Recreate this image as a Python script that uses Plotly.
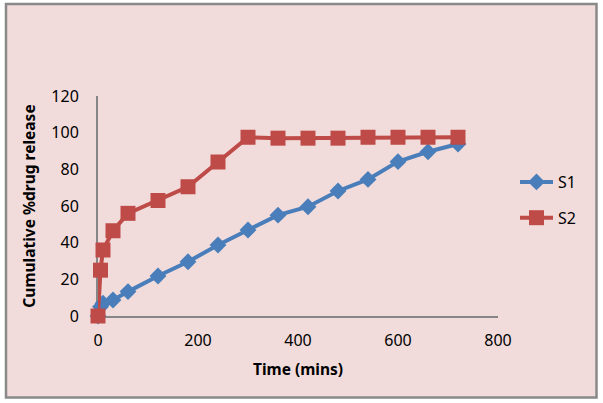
import plotly.graph_objects as go

time_s1 = [0, 5, 10, 30, 60, 120, 180, 240, 300, 360, 420, 480, 540, 600, 660, 720]
s1 = [0, 5, 7, 8.7, 13.3, 21.8, 29.6, 38.7, 46.9, 55, 59.6, 68.2, 74.5, 84.2, 89.6, 93.8]
time_s2 = [0, 5, 10, 30, 60, 120, 180, 240, 300, 360, 420, 480, 540, 600, 660, 720]
s2 = [0, 25, 36, 46.5, 56, 63, 70.5, 84, 97.5, 97, 97, 97, 97.5, 97.5, 97.5, 97.5]

x_ticks = [0, 200, 400, 600, 800]
y_ticks = [0, 20, 40, 60, 80, 100, 120]

FONT = "Noto Sans"
L, R, T, B = 98, 105, 96, 87
W, H = 603, 403
PW, PH = W - L - R, H - T - B

def px(x):
    return (x - L) / PW

def py(y):
    return (H - B - y) / PH

fig = go.Figure()
fig.add_trace(go.Scatter(
    x=time_s1, y=s1, name="S1", mode="lines+markers", legendgroup="a",
    cliponaxis=False,
    line=dict(color="#4A7EBB", width=4),
    marker=dict(symbol="diamond", size=13, color="#4A7EBB"),
))
fig.add_trace(go.Scatter(
    x=time_s2, y=s2, name="S2", mode="lines+markers", legendgroup="b",
    cliponaxis=False,
    line=dict(color="#BE4B48", width=4),
    marker=dict(symbol="square", size=15, color="#BE4B48"),
))

fig.add_shape(type="rect", xref="paper", yref="paper", layer="below",
              x0=px(6), x1=px(596.5), y0=py(397.5), y1=py(4),
              line=dict(color="#898989", width=2.5), fillcolor="#F2DCDB")

fig.update_layout(
    width=W, height=H,
    margin=dict(l=L, r=R, t=T, b=B),
    paper_bgcolor="white", plot_bgcolor="white",
    font=dict(family=FONT, size=16, color="black"),
    showlegend=True,
    legend=dict(x=px(515), y=py(200), xanchor="left", yanchor="middle",
                traceorder="grouped", tracegroupgap=12, itemwidth=33,
                font=dict(size=16, family=FONT), bgcolor="rgba(0,0,0,0)"),
    xaxis=dict(range=[0, 800], tickvals=x_ticks, showgrid=False, zeroline=False,
               showline=True, linecolor="#868686", linewidth=2, ticks="",
               ticklabelstandoff=9, layer="below traces",
               title=dict(text="<b>Time (mins)</b>", font=dict(size=15.5), standoff=14)),
    yaxis=dict(range=[0, 120], tickvals=y_ticks, showgrid=False, zeroline=False,
               showline=True, linecolor="#868686", linewidth=2, ticks="",
               ticklabelstandoff=14, layer="below traces",
               title=dict(text="<b>Cumulative %drug release</b>", font=dict(size=15.5), standoff=12)),
)

fig.write_html("out.html")
